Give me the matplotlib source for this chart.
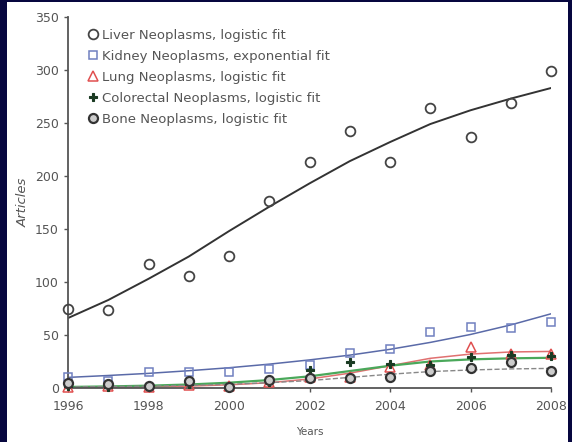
import numpy as np
import matplotlib; matplotlib.use('Agg')
import matplotlib.pyplot as plt
from matplotlib.patches import Rectangle

plt.rcParams['font.family'] = ['DejaVu Sans']

years = [1996, 1997, 1998, 1999, 2000, 2001, 2002, 2003, 2004, 2005, 2006, 2007, 2008]

liver = [75, 74, 117, 106, 125, 176, 213, 242, 213, 264, 237, 269, 299]
liver_fit = [66, 83, 103, 124, 148, 171, 193, 214, 232, 249, 262, 273, 283]
kidney = [10, 7, 15, 15, 15, 18, 22, 33, 37, 53, 58, 57, 62]
kidney_fit = [10, 11.8, 13.8, 16.3, 19.1, 22.5, 26.5, 31, 36.5, 43, 50.5, 59.5, 70]
lung = [1, 2, 1, 3, 2, 6, 10, 10, 20, 22, 39, 32, 32]
lung_fit = [0.3, 0.6, 1, 1.8, 3, 5, 8.5, 14, 21, 28, 32, 34, 34.5]
colorectal = [2, 1, 3, 4, 2, 6, 17, 25, 23, 22, 29, 31, 30]
colorectal_fit = [1, 1.5, 2.2, 3.3, 5, 7.5, 11, 16, 21, 25, 27, 28, 28.5]
bone = [5, 4, 2, 7, 1, 8, 9, 9, 10, 16, 19, 25, 16]
bone_fit = [1, 1.3, 1.8, 2.5, 3.5, 5, 7, 10, 13, 15.5, 17, 18, 18.5]

navy = '#07073f'
fig = plt.figure(figsize=(5.72, 4.42), dpi=100, facecolor=navy)
fig.patches.append(Rectangle((7/572, 0), 561/572, 440/442, transform=fig.transFigure,
                             facecolor='white', edgecolor='none', zorder=-10))
ax = fig.add_axes([68/572, 1-388/442, 483/572, 371/442])
ax.set_facecolor('none')

# fitted curves
ax.plot(years, liver_fit, '-', color='#333333', lw=1.4, zorder=2)
ax.plot(years, kidney_fit, '-', color='#5a6aa8', lw=1.1, zorder=2)
ax.plot(years, lung_fit, '-', color='#e07070', lw=1.1, zorder=2)
ax.plot(years, colorectal_fit, '-', color='#4aa85a', lw=1.6, zorder=2)
ax.plot(years, bone_fit, '--', color='#888888', lw=1.0, zorder=2)

# observed counts
kw = dict(ls='none', clip_on=False, zorder=3)
ax.plot(years, liver, marker='o', ms=7, mfc='none', mec='#444444', mew=1.3,
        label='Liver Neoplasms, logistic fit', **kw)
ax.plot(years, kidney, marker='s', ms=6, mfc='none', mec='#7080c0', mew=1.1,
        label='Kidney Neoplasms, exponential fit', **kw)
ax.plot(years, lung, marker='^', ms=7, mfc='none', mec='#e05050', mew=1.1,
        label='Lung Neoplasms, logistic fit', **kw)
ax.plot(years, colorectal, marker='P', ms=6, mfc='#1a3a22', mec='#1a3a22', mew=0.8,
        label='Colorectal Neoplasms, logistic fit', **kw)
ax.plot(years, bone, marker='o', ms=6.5, mfc='#cccccc', mec='#333333', mew=1.6,
        label='Bone Neoplasms, logistic fit', **kw)

ax.set_xlim(1996, 2008)
ax.set_ylim(0, 350)
ax.set_xticks(range(1996, 2009, 2))
ax.set_yticks(range(0, 351, 50))
for s in ['top', 'right']:
    ax.spines[s].set_visible(False)
for s in ['left', 'bottom']:
    ax.spines[s].set_color('#555555')
    ax.spines[s].set_linewidth(1.3)
ax.tick_params(length=3, width=1, color='#555555', labelcolor='#555555', labelsize=9)
ax.tick_params(axis='x', pad=6)
ax.set_xlabel('Years', fontsize=7.5, color='#555555', labelpad=10)
ax.set_ylabel('Articles', fontsize=9.5, color='#555555', style='italic', labelpad=4)

ax.legend(loc='upper left', bbox_to_anchor=(0.02, 1.0), frameon=False, fontsize=9.5,
          handlelength=0.6, handletextpad=0.35, labelspacing=0.6, labelcolor='#555555')

fig.savefig('out.png', dpi=100, facecolor=navy)
